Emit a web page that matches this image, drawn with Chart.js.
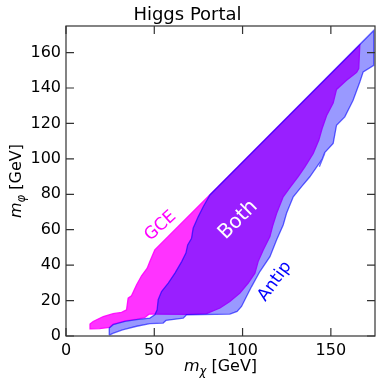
<!DOCTYPE html>
<html>
<head>
<meta charset="utf-8">
<script src="https://cdn.jsdelivr.net/npm/chart.js@4/dist/chart.umd.min.js"></script>
<style>
  html, body { margin: 0; padding: 0; background: #fff; }
</style>
</head>
<body>
<canvas id="grafico" width="382" height="386"></canvas>
<script>
// outlines of the two allowed regions, m_chi (x) vs m_phi (y) in GeV
let gceX = [14.0, 13.6, 15.4, 21.1, 26.7, 31.5, 34.3, 35.2, 37.1, 40.0, 42.8, 46.0, 47.5, 50.3,
  166.4, 165.8, 164.6, 158.9, 153.2, 151.3, 147.6, 145.0, 143.2, 140.0, 135.3, 131.5, 127.0, 123.0,
  119.3, 117.0, 115.5, 111.7, 108.8, 107.0, 103.2, 98.5, 92.8, 87.2, 79.6, 68.3, 50.0, 47.0, 44.5,
  40.0, 33.4, 26.7, 24.5, 19.0, 14.0];
let gceY = [4.0, 6.8, 8.2, 11.0, 12.6, 13.3, 14.8, 21.4, 22.7, 28.9, 34.0, 38.3, 42.0, 48.6,
  164.3, 151.0, 148.8, 144.4, 139.2, 131.5, 124.5, 117.0, 110.6, 103.0, 95.5, 90.0, 84.0, 78.6,
  69.3, 62.0, 56.1, 48.6, 42.0, 35.5, 29.9, 24.2, 19.5, 15.8, 12.6, 12.2, 12.4, 12.3, 10.3,
  9.5, 8.5, 6.7, 4.8, 4.2, 4.0];

let antipX = [24.5, 24.5, 26.7, 33.4, 40.0, 47.5, 50.3, 51.6, 52.2, 54.1, 57.9, 61.7, 65.5, 67.9,
  68.9, 71.1, 72.0, 74.9, 77.7, 81.5, 174.3, 174.3, 168.3, 166.4, 162.6, 157.9, 153.2, 151.3,
  146.5, 143.5, 145.5, 138.1, 133.4, 128.7, 124.9, 123.0, 119.3, 115.5, 109.8, 105.1, 101.3,
  99.4, 96.9, 92.8, 68.3, 66.4, 56.6, 55.0, 47.5, 40.0, 32.0, 26.5, 24.5];
let antipY = [0.5, 4.5, 6.4, 8.2, 9.2, 10.1, 12.0, 14.8, 20.5, 25.1, 29.9, 35.5, 42.0, 46.8,
  51.4, 55.2, 60.8, 67.4, 73.0, 79.6, 172.5, 152.8, 149.1, 143.4, 133.1, 123.7, 119.0, 108.7,
  103.5, 95.5, 100.5, 89.9, 84.3, 78.6, 69.3, 62.7, 54.3, 44.8, 36.4, 27.9, 20.5,
  16.7, 13.9, 12.4, 12.0, 10.1, 8.8, 7.3, 7.0, 5.5, 3.5, 1.5, 0.5];

let xTicks = [0, 50, 100, 150];
let yTicks = [0, 20, 40, 60, 80, 100, 120, 140, 160];
let regionNames = ['GCE', 'Both', 'Antip'];
let xLabel = ['m', 'χ', ' [GeV]'];
let yLabel = ['m', 'φ', ' [GeV]'];

// where the region names sit (data coords) and how they look
let nameStyle = {
  GCE:   { x: 53.5, y: 62.1, angle: -42, color: '#ff00ff', size: 17 },
  Both:  { x: 97.5, y: 65.5, angle: -45, color: '#ffffff', size: 20 },
  Antip: { x: 118.3, y: 30.8, angle: -54, color: '#0000ff', size: 17 }
};

function toPoints(xs, ys) {
  return xs.map((x, i) => ({ x: x, y: ys[i] }));
}

const FONT = '"DejaVu Sans", sans-serif';

let regionLabels = {
  id: 'regionLabels',
  afterDatasetsDraw(chart) {
    let ctx = chart.ctx;
    let sx = chart.scales.x, sy = chart.scales.y;
    regionNames.forEach(name => {
      let s = nameStyle[name];
      ctx.save();
      ctx.translate(sx.getPixelForValue(s.x), sy.getPixelForValue(s.y));
      ctx.rotate(s.angle * Math.PI / 180);
      ctx.font = s.size + 'px ' + FONT;
      ctx.fillStyle = s.color;
      ctx.textAlign = 'center';
      ctx.textBaseline = 'middle';
      ctx.fillText(name, 0, 0);
      ctx.restore();
    });
  }
};

// matplotlib style box with inward ticks on all four sides
let frameTicks = {
  id: 'frameTicks',
  afterDraw(chart) {
    let ctx = chart.ctx, a = chart.chartArea;
    let sx = chart.scales.x, sy = chart.scales.y;
    let len = 8;
    ctx.save();
    ctx.strokeStyle = '#333';
    ctx.lineWidth = 1.2;
    ctx.strokeRect(a.left, a.top, a.right - a.left, a.bottom - a.top);
    ctx.beginPath();
    xTicks.forEach(v => {
      let p = sx.getPixelForValue(v);
      ctx.moveTo(p, a.bottom); ctx.lineTo(p, a.bottom - len);
      ctx.moveTo(p, a.top); ctx.lineTo(p, a.top + len);
    });
    yTicks.forEach(v => {
      let p = sy.getPixelForValue(v);
      ctx.moveTo(a.left, p); ctx.lineTo(a.left + len, p);
      ctx.moveTo(a.right, p); ctx.lineTo(a.right - len, p);
    });
    ctx.stroke();
    ctx.restore();
  }
};

function drawRich(ctx, parts, x, y, rot) {
  let fonts = ['italic 16px ' + FONT, 'italic 11.5px ' + FONT, '16px ' + FONT];
  let shift = [0, 3.5, 0];
  let total = 0;
  parts.forEach((t, i) => { ctx.font = fonts[i]; total += ctx.measureText(t).width; });
  ctx.save();
  ctx.translate(x, y);
  ctx.rotate(rot);
  ctx.fillStyle = '#000';
  ctx.textBaseline = 'alphabetic';
  ctx.textAlign = 'left';
  let cur = -total / 2;
  parts.forEach((t, i) => {
    ctx.font = fonts[i];
    ctx.fillText(t, cur, shift[i]);
    cur += ctx.measureText(t).width;
  });
  ctx.restore();
}

let axisTitles = {
  id: 'axisTitles',
  afterDraw(chart) {
    let ctx = chart.ctx, a = chart.chartArea;
    drawRich(ctx, xLabel, (a.left + a.right) / 2, 371, 0);
    drawRich(ctx, yLabel, 21, (a.top + a.bottom) / 2, -Math.PI / 2);
  }
};

let tickFont = { family: FONT, size: 16 };

new Chart(document.getElementById('grafico'), {
  type: 'scatter',
  data: {
    datasets: [
      {
        label: 'Antip',
        data: toPoints(antipX, antipY),
        showLine: true,
        fill: 'shape',
        order: 0,
        tension: 0,
        pointRadius: 0,
        borderWidth: 1.3,
        borderColor: 'rgba(0, 0, 255, 0.6)',
        backgroundColor: 'rgba(0, 0, 255, 0.4)'
      },
      {
        label: 'GCE',
        data: toPoints(gceX, gceY),
        showLine: true,
        fill: 'shape',
        order: 1,
        tension: 0,
        pointRadius: 0,
        borderWidth: 1.3,
        borderColor: 'rgba(255, 0, 255, 0.9)',
        backgroundColor: 'rgba(255, 0, 255, 0.8)'
      }
    ]
  },
  options: {
    responsive: false,
    animation: false,
    devicePixelRatio: 1,
    layout: { padding: { right: 7, left: 0, top: 0, bottom: 0 } },
    plugins: {
      legend: { display: false },
      tooltip: { enabled: false },
      title: {
        display: true,
        text: 'Higgs Portal',
        color: '#000',
        font: { family: FONT, size: 18, weight: 'normal', lineHeight: 1.0 },
        padding: { top: 6, bottom: 2 }
      }
    },
    scales: {
      x: {
        type: 'linear',
        min: 0,
        max: 175,
        grid: { display: false, drawTicks: false },
        border: { display: false },
        afterBuildTicks: s => { s.ticks = xTicks.map(v => ({ value: v })); },
        afterFit: s => { s.height = 50; },
        ticks: { font: tickFont, color: '#000', padding: 5, maxRotation: 0 }
      },
      y: {
        type: 'linear',
        min: 0,
        max: 175,
        grid: { display: false, drawTicks: false },
        border: { display: false },
        afterBuildTicks: s => { s.ticks = yTicks.map(v => ({ value: v })); },
        afterFit: s => { s.width = 66; },
        ticks: { font: tickFont, color: '#000', padding: 5 }
      }
    }
  },
  plugins: [regionLabels, frameTicks, axisTitles]
});
</script>
</body>
</html>
